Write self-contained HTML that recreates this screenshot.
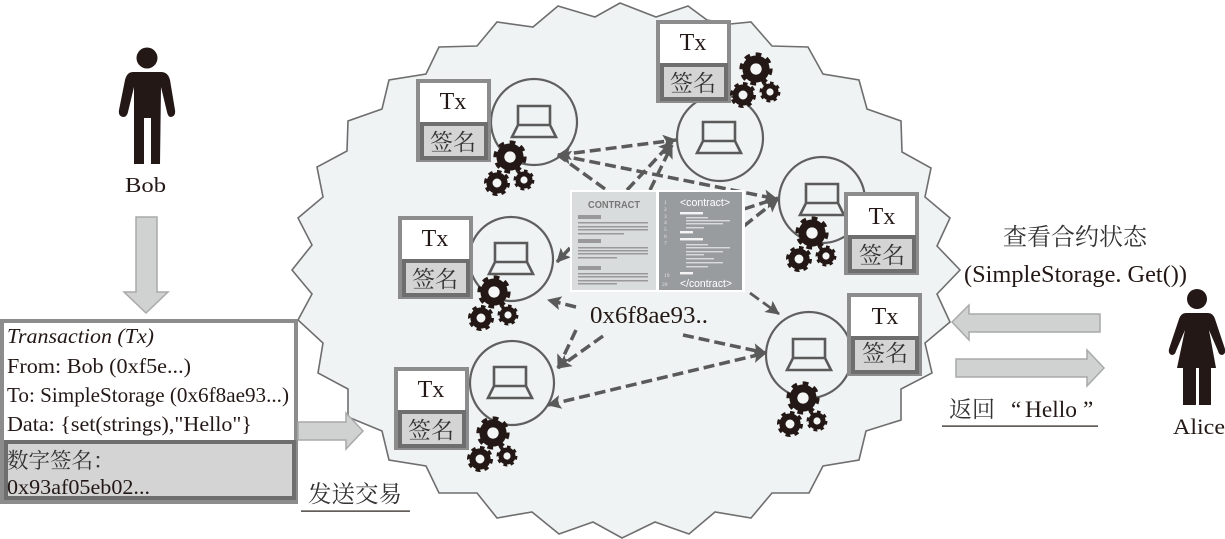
<!DOCTYPE html>
<html><head><meta charset="utf-8"><style>
html,body{margin:0;padding:0;background:#fff;width:1225px;height:539px;overflow:hidden}
svg{display:block}
text{font-family:"Liberation Serif","Noto Serif CJK SC",serif;fill:#231815}
.t{font-size:24px;text-anchor:middle}
.k{font-size:23px;text-anchor:middle;fill:#333}
.d{stroke:#5a5a5a;stroke-width:3.5;stroke-dasharray:11 5;fill:none}
.c{fill:#f0f3f3;stroke:#5f5f5f;stroke-width:2.2}
.l{fill:none;stroke:#5a5a5a;stroke-width:2.6}
.ar{fill:#d0d1d1;stroke:#a9a9a9;stroke-width:1.5}
.o{fill:#fff;stroke:#8c8c8c;stroke-width:4}
.s{fill:#d4d4d4;stroke:#6e6e6e;stroke-width:4}
.p{fill:#999}
.w{fill:#fff}
.lg{fill:#231815}
</style></head><body>
<svg width="1225" height="539" viewBox="0 0 1225 539" xmlns="http://www.w3.org/2000/svg">
<defs>
<marker id="a" markerUnits="userSpaceOnUse" markerWidth="16" markerHeight="16" refX="13" refY="8" orient="auto-start-reverse"><path d="M0 1 L14 8 L0 15 L3 8Z" fill="#5a5a5a"/></marker>
<symbol id="gear" viewBox="-20 -20 40 40" overflow="visible">
<circle r="6.5" fill="#f4f5f5"/>
<circle r="11" fill="none" stroke="#231815" stroke-width="9"/>
<circle r="16" fill="none" stroke="#231815" stroke-width="6" pathLength="16" stroke-dasharray="1 1"/>
</symbol>
<g id="gears">
<use href="#gear" x="-17.5" y="-17.5" width="35" height="35"/>
<use href="#gear" x="-26.7" y="12.3" width="27.4" height="27.4"/>
<use href="#gear" x="3" y="12" width="22" height="22"/>
</g>
<path id="lap" d="M-16 3 V-16 H16 V3 M-16 3 H16 L22 15 H-22Z" class="l"/>
</defs>

<polygon points="620,3 656,17 688,6 707,20 730,24 751,22 772,46 808,47 823,74 859,80 867,109 901,121 902,152 931,168 925,197 950,218 937,246 960,270 937,294 950,322 925,343 932,373 901,389 901,420 866,431 859,460 823,466 809,493 772,493 751,518 715,512 689,534 655,522 622,538 593,522 559,534 532,512 497,518 477,493 439,493 426,466 389,460 382,431 348,417 348,389 318,373 323,343 298,320 312,294 292,270 312,245 298,218 323,197 317,167 347,151 348,121 382,109 389,80 426,74 439,47 477,46 497,22 533,27 558,6 595,17" fill="#f0f3f3" stroke="#6e6e6e" stroke-width="1.6"/>

<circle class="c" cx="534" cy="122" r="43"/>
<circle class="c" cx="511" cy="259" r="42"/>
<circle class="c" cx="512" cy="383" r="42"/>
<circle class="c" cx="720" cy="138" r="43"/>
<circle class="c" cx="822" cy="200" r="43"/>
<circle class="c" cx="809" cy="355" r="43"/>
<use href="#lap" x="534" y="122"/>
<use href="#lap" x="511" y="259"/>
<use href="#lap" x="510" y="383"/>
<use href="#lap" x="719" y="138"/>
<use href="#lap" x="822" y="200"/>
<use href="#lap" x="809" y="355"/>

<path class="d" d="M558 155 L676 140" marker-start="url(#a)" marker-end="url(#a)"/>
<path class="d" d="M558 155 L777 199" marker-start="url(#a)" marker-end="url(#a)"/>
<path class="d" d="M605 189 L558 155"/>
<path class="d" d="M627 190 L672 142" marker-end="url(#a)"/>
<path class="d" d="M650 190 L672 145" marker-end="url(#a)"/>
<path class="d" d="M744 209 L778 198" marker-end="url(#a)"/>
<path class="d" d="M744 226 L778 199" marker-end="url(#a)"/>
<path class="d" d="M570 248 L557 262" marker-end="url(#a)"/>
<path class="d" d="M576 307 L548 300" marker-end="url(#a)"/>
<path class="d" d="M576 330 L558 368" marker-end="url(#a)"/>
<path class="d" d="M603 336 L558 368" marker-end="url(#a)"/>
<path class="d" d="M548 405 L766 353" marker-start="url(#a)" marker-end="url(#a)"/>
<path class="d" d="M683 335 L766 353" marker-end="url(#a)"/>
<path class="d" style="stroke-width:2.8" d="M750 293 L779 314" marker-end="url(#a)"/>

<rect x="570" y="190" width="175" height="102" fill="#fff"/>
<rect x="572" y="192" width="84" height="98" fill="#d9dcdc"/>
<rect x="659" y="192" width="83" height="98" fill="#999c9e"/>
<text x="588" y="208" textLength="52" lengthAdjust="spacingAndGlyphs" style="font-family:'Liberation Sans',sans-serif;font-weight:bold;font-size:10px;fill:#777">CONTRACT</text>
<g class="p">
<rect x="578" y="215" width="23" height="4"/><rect x="578" y="222" width="70" height="1.5"/><rect x="578" y="226" width="70" height="1.5"/><rect x="578" y="229" width="70" height="1.5"/><rect x="578" y="233" width="46" height="1.5"/>
<rect x="578" y="239" width="23" height="4"/><rect x="578" y="247" width="70" height="1.5"/><rect x="578" y="250" width="70" height="1.5"/><rect x="578" y="253" width="70" height="1.5"/><rect x="578" y="257" width="39" height="1.5"/>
<rect x="578" y="266" width="23" height="4"/><rect x="578" y="273" width="70" height="1.5"/><rect x="578" y="276" width="70" height="1.5"/><rect x="578" y="280" width="70" height="1.5"/><rect x="578" y="283" width="39" height="1.5"/>
</g>
<text x="680" y="206" textLength="50" lengthAdjust="spacingAndGlyphs" style="font-family:'Liberation Sans',sans-serif;font-size:11px;fill:#fff">&lt;contract&gt;</text>
<text x="680" y="287" textLength="52" lengthAdjust="spacingAndGlyphs" style="font-family:'Liberation Sans',sans-serif;font-size:11px;fill:#fff">&lt;/contract&gt;</text>
<g style="font-family:'Liberation Sans',sans-serif" font-size="5.5">
<text x="664" y="204" style="fill:#e4e4e4">1</text><text x="664" y="211" style="fill:#e4e4e4">2</text><text x="664" y="218" style="fill:#e4e4e4">3</text><text x="664" y="224" style="fill:#e4e4e4">4</text><text x="664" y="231" style="fill:#e4e4e4">5</text><text x="664" y="238" style="fill:#e4e4e4">6</text><text x="664" y="245" style="fill:#e4e4e4">7</text><text x="664" y="277" style="fill:#e4e4e4">19</text><text x="662" y="286" style="fill:#e4e4e4">20</text>
</g>
<g class="w" opacity=".9">
<rect x="680" y="212" width="23" height="2.4"/><rect x="686" y="217" width="22" height="1.4" opacity=".7"/><rect x="686" y="220" width="44" height="1.4" opacity=".7"/><rect x="686" y="223" width="37" height="1.4" opacity=".7"/><rect x="686" y="227" width="18" height="1.4" opacity=".7"/>
<rect x="680" y="231" width="13" height="2.4"/><rect x="680" y="238" width="23" height="2.4"/>
<rect x="686" y="244" width="22" height="1.4" opacity=".7"/><rect x="686" y="247" width="44" height="1.4" opacity=".7"/><rect x="686" y="251" width="37" height="1.4" opacity=".7"/><rect x="686" y="254" width="18" height="1.4" opacity=".7"/><rect x="686" y="258" width="28" height="1.4" opacity=".7"/><rect x="686" y="262" width="37" height="1.4" opacity=".7"/><rect x="686" y="266" width="22" height="1.4" opacity=".7"/>
<rect x="680" y="272" width="13" height="2.4"/>
</g>
<text x="590" y="323" font-size="24" textLength="118" lengthAdjust="spacingAndGlyphs">0x6f8ae93..</text>

<g transform="translate(416,79)"><rect class="o" x="2" y="2" width="71" height="79"/><rect class="s" x="6" y="45" width="64" height="34"/><text class="t" x="37" y="30">Tx</text><text class="k" x="37" y="71">签名</text></g>
<g transform="translate(398,216)"><rect class="o" x="2" y="2" width="71" height="79"/><rect class="s" x="6" y="45" width="64" height="34"/><text class="t" x="37" y="30">Tx</text><text class="k" x="37" y="71">签名</text></g>
<g transform="translate(394,367)"><rect class="o" x="2" y="2" width="71" height="79"/><rect class="s" x="6" y="45" width="64" height="34"/><text class="t" x="37" y="30">Tx</text><text class="k" x="37" y="71">签名</text></g>
<g transform="translate(656,20)"><rect class="o" x="2" y="2" width="71" height="79"/><rect class="s" x="6" y="45" width="64" height="34"/><text class="t" x="37" y="30">Tx</text><text class="k" x="37" y="71">签名</text></g>
<g transform="translate(844,192)"><rect class="o" x="2" y="2" width="71" height="79"/><rect class="s" x="6" y="45" width="64" height="34"/><text class="t" x="38" y="32">Tx</text><text class="k" x="38" y="71">签名</text></g>
<g transform="translate(847,293)"><rect class="o" x="2" y="2" width="71" height="79"/><rect class="s" x="6" y="45" width="64" height="34"/><text class="t" x="38" y="31">Tx</text><text class="k" x="38" y="68">签名</text></g>

<use href="#gears" x="510" y="157"/>
<use href="#gears" x="494" y="292"/>
<use href="#gears" x="493" y="433"/>
<use href="#gears" x="756" y="69"/>
<use href="#gears" x="812" y="233"/>
<use href="#gears" x="803" y="398"/>

<circle class="lg" cx="147" cy="58" r="10.5"/>
<path class="lg" d="M133 72 L161 72 Q168 72 170 80 L175 110 Q176 116 171 117 Q168 117 167 112 L161 87 L160 164 L151 164 L151 118 L144 118 L144 164 L134 164 L134 87 L128 112 Q127 117 123 117 Q118 116 119 110 L125 80 Q127 72 133 72Z"/>
<text x="125" y="192" font-size="21" textLength="41" lengthAdjust="spacingAndGlyphs">Bob</text>
<polygon class="ar" points="136,217 157,217 157,292 168,292 146,313 124,292 136,292"/>

<rect x="2" y="321" width="294" height="181" fill="#fff" stroke="#8c8c8c" stroke-width="4"/>
<rect x="6" y="442" width="288" height="56" fill="#d4d4d4" stroke="#6e6e6e" stroke-width="4"/>
<text x="7" y="343" font-size="21" font-style="italic" textLength="147" lengthAdjust="spacingAndGlyphs">Transaction (Tx)</text>
<text x="7" y="373" font-size="21" textLength="184" lengthAdjust="spacingAndGlyphs">From: Bob (0xf5e...)</text>
<text x="7" y="402" font-size="21" textLength="282" lengthAdjust="spacingAndGlyphs">To: SimpleStorage (0x6f8ae93...)</text>
<text x="7" y="431" font-size="21" textLength="245" lengthAdjust="spacingAndGlyphs">Data: {set(strings),"Hello"}</text>
<text x="7" y="468" font-size="21.5" style="fill:#333">数字签名：</text>
<text x="7" y="494" font-size="21" textLength="143" lengthAdjust="spacingAndGlyphs">0x93af05eb02...</text>

<polygon class="ar" points="298,422 346,422 346,413 363,431 346,449 346,440 298,440"/>
<text x="308" y="502" font-size="23.5" style="fill:#333">发送交易</text>
<rect x="301" y="510.5" width="109" height="1.2" fill="#231815"/>

<text x="1003" y="245" font-size="24" style="fill:#333">查看合约状态</text>
<text x="964" y="282" font-size="24" textLength="223" lengthAdjust="spacingAndGlyphs">(SimpleStorage. Get())</text>
<polygon class="ar" points="1100,314 969,314 969,305 952,322 969,340 969,332 1100,332"/>
<polygon class="ar" points="956,359 1087,359 1087,350 1104,368 1087,386 1087,377 956,377"/>
<text x="949" y="417" font-size="23" style="fill:#333">返回</text>
<text x="1011" y="417" font-size="23">“</text>
<text x="1025" y="417" font-size="23.4" textLength="52" lengthAdjust="spacingAndGlyphs">Hello</text>
<text x="1083" y="417" font-size="23">”</text>
<rect x="942" y="425.5" width="156" height="1.2" fill="#231815"/>

<circle class="lg" cx="1197" cy="299" r="10"/>
<path class="lg" d="M1186 313 L1208 313 Q1213 313 1215 319 L1225 349 Q1226 354 1222 355 Q1219 355 1218 351 L1209 330 L1216 368 L1211 368 L1211 405 L1199 405 L1199 368 L1196 368 L1196 405 L1183 405 L1183 368 L1177 368 L1185 330 L1176 351 Q1175 355 1172 355 Q1168 354 1169 349 L1179 319 Q1181 313 1186 313Z"/>
<text x="1173" y="434" font-size="22" textLength="52" lengthAdjust="spacingAndGlyphs">Alice</text>
</svg>
</body></html>
